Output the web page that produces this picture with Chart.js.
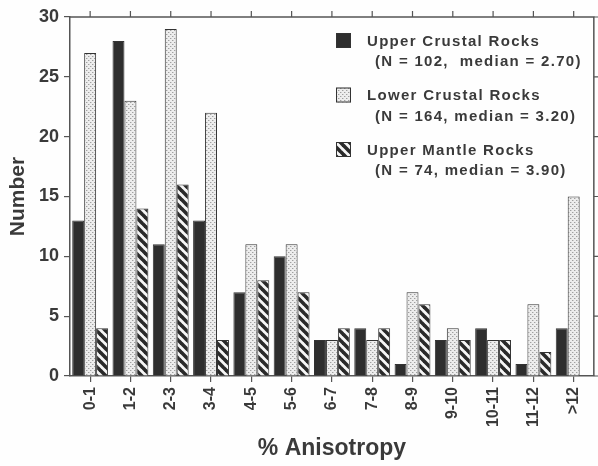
<!DOCTYPE html>
<html>
<head>
<meta charset="utf-8">
<script src="https://cdn.jsdelivr.net/npm/chart.js@4/dist/chart.umd.min.js"></script>
<style>
  html, body { margin: 0; padding: 0; background: #fefefe; }
  #wrap { width: 598px; height: 466px; }
</style>
</head>
<body>
<div id="wrap"><canvas id="c" width="598" height="466"></canvas></div>
<script>
// Histogram of seismic anisotropy for three rock groups
const categories = ['0-1', '1-2', '2-3', '3-4', '4-5', '5-6', '6-7', '7-8', '8-9', '9-10', '10-11', '11-12', '>12'];
const upperCrustal = [13, 28, 11, 13, 7, 10, 3, 4, 1, 3, 4, 1, 4];
const lowerCrustal = [27, 23, 29, 22, 11, 11, 3, 3, 7, 4, 3, 6, 15];
const upperMantle  = [4, 14, 16, 3, 8, 7, 4, 4, 6, 3, 3, 2, 0];
const yTickValues  = [0, 5, 10, 15, 20, 25, 30];
const seriesNames  = ['Upper Crustal Rocks', 'Lower Crustal Rocks', 'Upper Mantle Rocks'];
const seriesStats  = ['(N = 102,  median = 2.70)', '(N = 164, median = 3.20)', '(N = 74, median = 3.90)'];

const INK = '#3a3a3a';
const AXIS = '#555555';
const SOLID = '#2e2e2e';

// fill patterns
function stipplePattern() {
  const t = document.createElement('canvas');
  t.width = 4; t.height = 4;
  const g = t.getContext('2d');
  g.fillStyle = '#ededed';
  g.fillRect(0, 0, 4, 4);
  g.fillStyle = '#a0a0a0';
  g.fillRect(0, 0, 1, 1);
  g.fillRect(2, 2, 1, 1);
  g.fillStyle = '#cfcfcf';
  g.fillRect(1, 0, 1, 1);
  g.fillRect(3, 2, 1, 1);
  return g.createPattern(t, 'repeat');
}
function hatchPattern() {
  const s = 9;
  const t = document.createElement('canvas');
  t.width = s; t.height = s;
  const g = t.getContext('2d');
  g.fillStyle = '#f6f6f6';
  g.fillRect(0, 0, s, s);
  g.strokeStyle = '#2a2a2a';
  g.lineWidth = 3.6;
  for (const o of [-s, 0, s]) {
    g.beginPath();
    g.moveTo(o - 1, -1);
    g.lineTo(o + s + 1, s + 1);
    g.stroke();
  }
  return g.createPattern(t, 'repeat');
}

const fills = [SOLID, stipplePattern(), hatchPattern()];

// frame: top and right axis lines with their tick marks, plus background
const framePlugin = {
  id: 'frame',
  beforeDraw(chart) {
    const ctx = chart.ctx;
    ctx.save();
    ctx.fillStyle = '#fefefe';
    ctx.fillRect(0, 0, chart.width, chart.height);
    ctx.restore();
  },
  afterDraw(chart) {
    const { ctx, chartArea: a, scales } = chart;
    ctx.save();
    ctx.strokeStyle = AXIS;
    ctx.lineWidth = 1.5;
    ctx.beginPath();
    ctx.moveTo(a.left, a.top);
    ctx.lineTo(a.right, a.top);
    ctx.lineTo(a.right, a.bottom);
    ctx.stroke();
    ctx.lineWidth = 1.2;
    ctx.beginPath();
    categories.forEach((c, i) => {
      const x = scales.x.getPixelForTick(i);
      ctx.moveTo(x, a.top);
      ctx.lineTo(x, a.top - 6);
    });
    yTickValues.forEach(v => {
      const y = scales.y.getPixelForValue(v);
      ctx.moveTo(a.right, y);
      ctx.lineTo(a.right + 6, y);
    });
    ctx.stroke();
    ctx.restore();
  }
};

// legend with two-line entries
const legendPlugin = {
  id: 'twoLineLegend',
  afterDraw(chart) {
    const ctx = chart.ctx;
    ctx.save();
    const boxX = 336, box = 15, top0 = 33, step = 54.5;
    chart.data.datasets.forEach((ds, i) => {
      const by = top0 + i * step;
      ctx.fillStyle = ds.backgroundColor;
      ctx.fillRect(boxX, by, box, box);
      ctx.strokeStyle = '#333';
      ctx.lineWidth = 1;
      ctx.strokeRect(boxX + 0.5, by + 0.5, box - 1, box - 1);
      ctx.fillStyle = INK;
      ctx.font = 'bold 15px "Liberation Sans", Arial, sans-serif';
      ctx.textBaseline = 'middle';
      ctx.textAlign = 'left';
      ctx.letterSpacing = '1.3px';
      ctx.fillText(seriesNames[i], 367, by + 8.5);
      ctx.fillText(seriesStats[i], 375, by + 29);
    });
    ctx.restore();
  }
};

const makeSet = (label, data, fill) => ({
  label, data,
  backgroundColor: fill,
  borderColor: '#333333',
  borderWidth: 1,
  categoryPercentage: 0.89,
  barPercentage: 1.0
});

new Chart(document.getElementById('c'), {
  type: 'bar',
  data: {
    labels: categories,
    datasets: [
      makeSet(seriesNames[0], upperCrustal, fills[0]),
      makeSet(seriesNames[1], lowerCrustal, fills[1]),
      makeSet(seriesNames[2], upperMantle, fills[2])
    ]
  },
  options: {
    responsive: false,
    animation: false,
    devicePixelRatio: 1,
    layout: { padding: { left: 0, right: 3, top: 17, bottom: 0 } },
    plugins: {
      legend: { display: false },
      tooltip: { enabled: false }
    },
    scales: {
      x: {
        offset: true,
        grid: { offset: false, drawOnChartArea: false, tickLength: 6, color: AXIS, lineWidth: 1.2 },
        border: { display: true, color: AXIS, width: 1.5 },
        ticks: {
          autoSkip: false, minRotation: 90, maxRotation: 90, padding: 5,
          color: INK, font: { family: '"Liberation Sans", Arial, sans-serif', size: 16, weight: 'bold' }
        },
        title: {
          display: true, text: '% Anisotropy', color: INK,
          font: { family: '"Liberation Sans", Arial, sans-serif', size: 23, weight: 'bold' },
          padding: { top: 0, bottom: 4 }
        },
        afterFit(scale) { scale.height = 90; }
      },
      y: {
        min: 0, max: 30,
        afterBuildTicks(scale) { scale.ticks = yTickValues.map(v => ({ value: v })); },
        grid: { drawOnChartArea: false, tickLength: 6, color: AXIS, lineWidth: 1.2 },
        border: { display: true, color: AXIS, width: 1.5 },
        ticks: {
          padding: 5, color: INK,
          font: { family: '"Liberation Sans", Arial, sans-serif', size: 18, weight: 'bold' }
        },
        title: {
          display: true, text: 'Number', color: INK,
          font: { family: '"Liberation Sans", Arial, sans-serif', size: 21, weight: 'bold' },
          padding: { top: 6, bottom: 0 }
        },
        afterFit(scale) { scale.width = 70; }
      }
    }
  },
  plugins: [framePlugin, legendPlugin]
});
</script>
</body>
</html>
